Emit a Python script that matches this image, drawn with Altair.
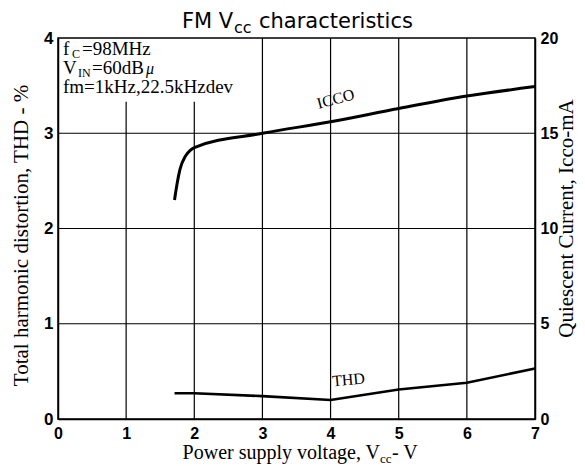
import altair as alt
import pandas as pd

# ---- data ----
vcc_icc = [1.71, 1.745, 1.79, 1.87, 1.94, 2.0, 3.0, 4.0, 5.0, 6.0, 7.0]
icc_ma = [11.5, 12.3, 13.1, 13.8, 14.1, 14.25, 15.0, 15.6, 16.3, 16.95, 17.45]
vcc_thd = [1.71, 2.0, 3.0, 4.0, 5.0, 6.0, 7.0]
thd_pct = [0.27, 0.27, 0.24, 0.20, 0.31, 0.38, 0.53]

x_ticks = [0, 1, 2, 3, 4, 5, 6, 7]
thd_ticks = [0, 1, 2, 3, 4]
icc_ticks = [0, 5, 10, 15, 20]

grid_x = [1, 2, 3, 4, 5, 6]
grid_x_top = [3.33, 3.33, 4, 4, 4, 4]   # gridlines 1 and 2 hidden behind the condition box
grid_y = [1, 2, 3]

W, H = 477, 381
SERIF = "Liberation Serif"
SANS = "Liberation Sans"

icc_df = pd.DataFrame({"vcc": vcc_icc, "icc": icc_ma})
thd_df = pd.DataFrame({"vcc": vcc_thd, "thd": thd_pct})
gv_df = pd.DataFrame({"vcc": grid_x, "thd": [0] * len(grid_x), "thd2": grid_x_top})
gh_df = pd.DataFrame({"vcc": [0] * len(grid_y), "vcc2": [7] * len(grid_y), "thd": grid_y})

x_scale = alt.Scale(domain=[0, 7], nice=False, zero=False)
x_axis = alt.Axis(values=x_ticks, title=None, grid=False, ticks=False, domain=True,
                  domainColor="black", domainWidth=1.5, labelFont=SANS, labelFontWeight="bold",
                  labelFontSize=16, labelColor="black", labelPadding=6, labelFlush=False)
thd_scale = alt.Scale(domain=[0, 4], nice=False)
thd_axis = alt.Axis(values=thd_ticks, orient="left", title="Total harmonic distortion, THD - %",
                    grid=False, ticks=False, domain=True, domainColor="black", domainWidth=1.5,
                    labelFont=SANS, labelFontWeight="bold", labelFontSize=17, labelColor="black",
                    labelPadding=5, labelFlush=False,
                    titleFont=SERIF, titleFontSize=21, titleFontWeight="normal", titleColor="black",
                    titleAngle=270, titleX=-37, titleY=197, titleAlign="center", titleBaseline="middle")
icc_scale = alt.Scale(domain=[0, 20], nice=False)
icc_axis = alt.Axis(values=icc_ticks, orient="right", title="Quiescent Current, Icco-mA",
                    grid=False, ticks=False, domain=True, domainColor="black", domainWidth=1.5,
                    labelFont=SANS, labelFontWeight="bold", labelFontSize=16, labelColor="black",
                    labelPadding=5, labelFlush=False,
                    titleFont=SERIF, titleFontSize=21, titleFontWeight="normal", titleColor="black",
                    titleAngle=270, titleX=31, titleY=180, titleAlign="center", titleBaseline="middle")

X = alt.X("vcc:Q", scale=x_scale, axis=x_axis)
Y_THD = alt.Y("thd:Q", scale=thd_scale, axis=thd_axis)

grid_v = alt.Chart(gv_df).mark_rule(color="black", strokeWidth=1.2).encode(
    x=X, y=Y_THD, y2="thd2:Q")
grid_h = alt.Chart(gh_df).mark_rule(color="black", strokeWidth=1.2).encode(
    x=X, x2="vcc2:Q", y=Y_THD)
thd_line = alt.Chart(thd_df).mark_line(color="black", strokeWidth=2.6).encode(x=X, y=Y_THD)
icc_line = alt.Chart(icc_df).mark_line(color="black", strokeWidth=3, interpolate="monotone").encode(
    x=X, y=alt.Y("icc:Q", scale=icc_scale, axis=icc_axis))


def label(txt, x, y, size, font=SERIF, align="left", angle=0, style="normal", weight="normal"):
    return alt.Chart(pd.DataFrame({"t": [txt]})).mark_text(
        font=font, fontSize=size, align=align, baseline="alphabetic", angle=angle,
        fontStyle=style, fontWeight=weight, color="black").encode(
        x=alt.value(x), y=alt.value(y), text="t:N")


texts = [
    # title
    label("FM V", 124, -10, 21, font="DejaVu Sans"),
    label("cc", 176, -5, 16, font="DejaVu Sans"),
    label("characteristics", 201, -10, 21, font="DejaVu Sans"),
    # conditions box
    label("f", 5, 17, 19),
    label("C", 14, 20, 12),
    label("=98MHz", 24, 17, 19),
    label("V", 5, 36, 19),
    label("IN", 20, 39, 12),
    label("=60dB", 34, 36, 19),
    label("\u03bc", 88, 36, 16, style="italic"),
    label("fm=1kHz,22.5kHzdev", 5, 55, 19),
    # curve labels
    label("ICCO", 279, 66, 16, align="center", angle=345),
    label("THD", 291, 347, 16, align="center", angle=355),
    # x axis title with subscript
    label("Power supply voltage, V", 322, 421, 20, align="right"),
    label("cc", 322, 425, 13),
    label(" - V", 334, 421, 20),
]

left = alt.layer(grid_v, grid_h, thd_line, *texts)
chart = alt.layer(left, icc_line).resolve_scale(y="independent").properties(
    width=W, height=H,
    autosize=alt.AutoSizeParams(type="none"),
    padding={"left": 50, "top": 30, "right": 42, "bottom": 47},
    background="white",
).configure_view(stroke="black", strokeWidth=1.5)

chart.save("out.html", embed_options={"renderer": "svg", "actions": False})
